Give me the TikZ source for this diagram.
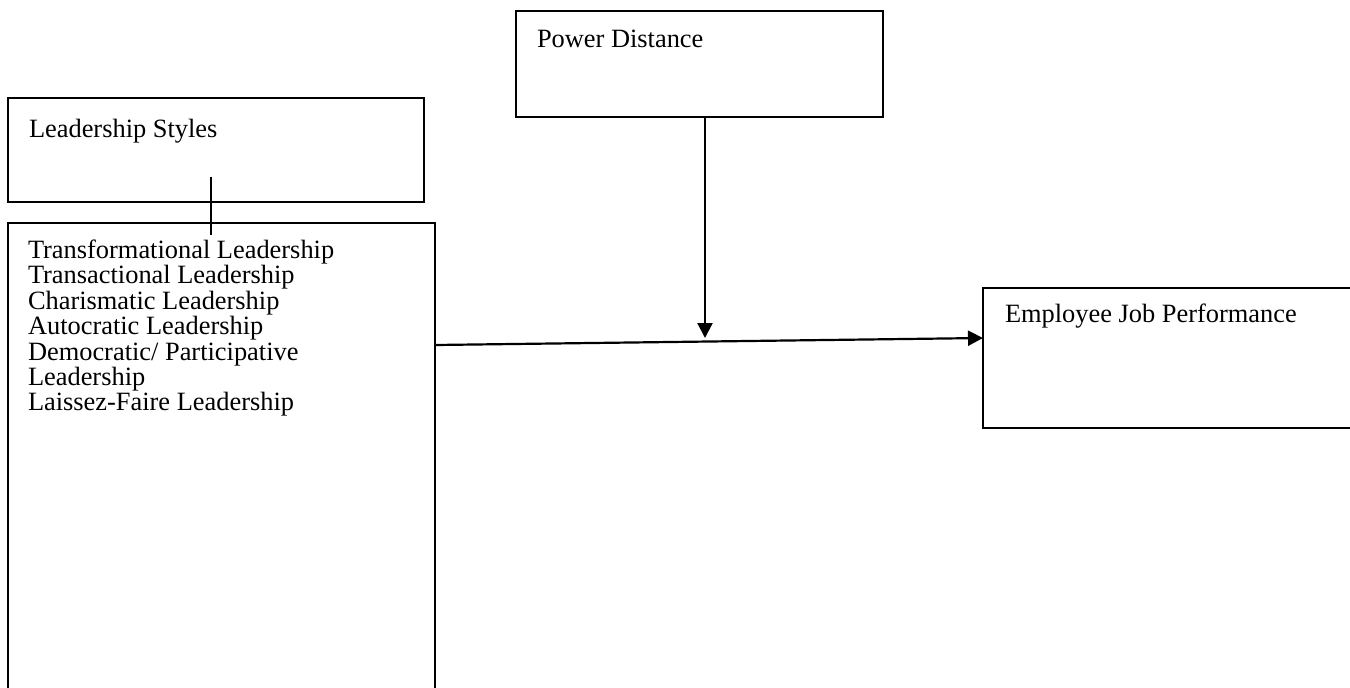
\documentclass[tikz,border=0pt]{standalone}
\usepackage{fontspec}
\setmainfont{Liberation Serif}
\usetikzlibrary{arrows.meta,calc}
\begin{document}
\begin{tikzpicture}[x=0.5pt,y=-0.5pt,
  box/.style={draw, line width=0.8pt, rectangle, inner sep=0pt, outer sep=0pt, anchor=north west},
  lbl/.style={inner sep=0pt, outer sep=0pt, font=\fontsize{13.2}{12.7}\selectfont},
  arr/.style={line width=1.1pt, -{Triangle[length=7.5pt,width=7.5pt]}}]
\useasboundingbox (0,0) rectangle (1350,687);
% boxes
\node[box, minimum width=208pt, minimum height=52pt] (ls) at (8,98) {};
\node[box, minimum width=183.5pt, minimum height=53pt] (pd) at (516,11) {};
\node[box, minimum width=213.5pt, minimum height=236pt] (lead) at (8,223) {};
\node[box, minimum width=188.5pt, minimum height=70pt] (ejp) at (983,288) {};
% texts
\node[lbl, anchor=base west] (lsT) at (29,137) {Leadership Styles};
\node[lbl, anchor=base west] (pdT) at (537,47) {Power Distance};
\node[lbl, anchor=base west] (ejpT) at (1005,322) {Employee Job Performance};
\node[lbl, anchor=north west, align=left] (leadT) at (28,240) {Transformational Leadership\\Transactional Leadership\\Charismatic Leadership\\Autocratic Leadership\\Democratic/ Participative\\Leadership\\Laissez-Faire Leadership};
% connectors
\coordinate (vA) at (211,177);
\coordinate (vB) at (211,235);
\draw[line width=0.6pt] (vA) -- (vB);
\coordinate (pdX) at (705,0);
\coordinate (pdTip) at (705,338);
\draw[arr] (pd.south -| pdX) -- (pdTip);
\coordinate (hA) at (435,345);
\coordinate (hB) at (983,338);
\draw[arr] (lead.east |- hA) -- (ejp.west |- hB);
\end{tikzpicture}
\end{document}
